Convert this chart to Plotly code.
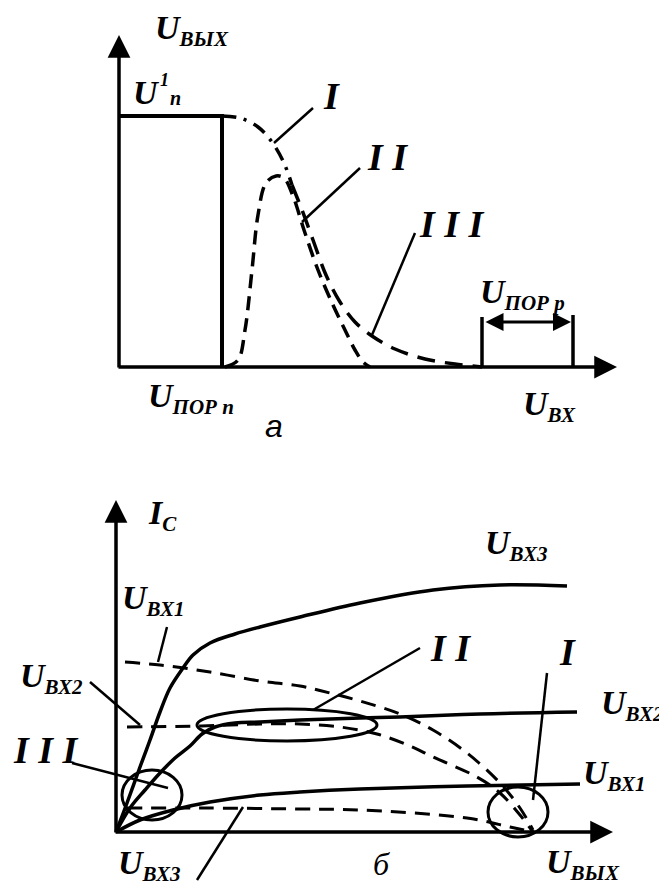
import plotly.graph_objects as go

# ---- curve points (picture coordinates, y grows downward) ----
# chart "а"
rect_x = [119, 222, 222]
rect_y = [116, 116, 367]
curve1_x = [222, 240, 258, 272, 284, 292]
curve1_y = [116, 118, 127, 142, 163, 185]
curve2_x = [225, 238, 245, 252, 258, 266, 276, 284, 293, 304, 318, 333, 345, 355, 363, 370]
curve2_y = [367, 360, 330, 270, 215, 183, 176, 178, 196, 230, 270, 305, 330, 350, 362, 367]
curve3_x = [292, 302, 313, 326, 340, 355, 372, 395, 425, 455, 482]
curve3_y = [185, 210, 240, 275, 302, 322, 336, 349, 359, 364, 367]

# chart "б"
ubx3_x = [116, 127, 140, 150, 160, 170, 183, 193, 210, 235, 260, 300, 360, 433, 500, 567]
ubx3_y = [832, 803, 767, 740, 712, 688, 668, 655, 643, 634, 627, 617, 603, 590, 585, 586]
ubx2_x = [116, 130, 145, 160, 175, 190, 202, 215, 235, 260, 300, 360, 400, 480, 577]
ubx2_y = [832, 808, 790, 773, 758, 746, 734, 727, 723, 722, 720, 718, 717, 714, 712]
ubx1_x = [116, 140, 173, 210, 260, 300, 360, 467, 580]
ubx1_y = [832, 820, 810, 802, 795, 792, 789, 786, 784]
load1_x = [125, 160, 210, 260, 300, 330, 360, 400, 433, 467, 500, 520, 533]
load1_y = [662, 665, 672, 681, 686, 693, 701, 714, 730, 753, 783, 808, 830]
load2_x = [127, 200, 260, 300, 340, 377, 410, 433, 477, 500, 520, 533]
load2_y = [727, 726, 724, 724, 727, 734, 746, 757, 777, 793, 815, 832]
load3_x = [127, 200, 300, 360, 467, 510, 533]
load3_y = [808, 808, 809, 810, 818, 827, 832]

# ellipses: center x, center y, rx, ry
ellipses = [(287, 725, 90, 16), (152, 795, 30, 25), (518, 812, 30, 25)]

# leader lines: x0, y0, x1, y1
leaders = [
    (313, 108, 274, 143), (360, 168, 302, 222), (415, 233, 372, 335),
    (420, 648, 313, 710), (547, 673, 533, 800), (72, 763, 168, 788),
    (90, 682, 140, 725), (167, 627, 158, 662), (197, 880, 243, 807),
]

# axes: tail x, tail y, head x, head y
axes = [(119, 369, 119, 35), (117, 367, 617, 367), (116, 834, 116, 500), (114, 832, 613, 832)]

BI = "Liberation Serif"
OFF = 8  # page body margin

fig = go.Figure()


def line(xs, ys, width=3, dash="solid", shape="spline"):
    fig.add_trace(go.Scatter(x=xs, y=ys, mode="lines", line=dict(color="black", width=width, dash=dash, shape=shape, smoothing=1.0),
                             hoverinfo="skip", showlegend=False))


line(rect_x, rect_y, width=4, shape="linear")
line(curve1_x, curve1_y, width=3.5, dash="14px,8px,3px,8px")
line(curve2_x, curve2_y, width=3.5, dash="14px,8px")
line(curve3_x, curve3_y, width=3.5, dash="18px,10px")

line(ubx3_x, ubx3_y, width=3.5)
line(ubx2_x, ubx2_y, width=3.5)
line(ubx1_x, ubx1_y, width=3.5)
line(load1_x, load1_y, dash="15px,9px")
line(load2_x, load2_y, dash="15px,9px")
line(load3_x, load3_y, dash="15px,9px")

for cx, cy, rx, ry in ellipses:
    fig.add_shape(type="circle", x0=cx - rx, x1=cx + rx, y0=cy - ry, y1=cy + ry,
                  line=dict(color="black", width=3), xref="x", yref="y")

for x0, y0, x1, y1 in leaders:
    fig.add_shape(type="line", x0=x0, y0=y0, x1=x1, y1=y1, line=dict(color="black", width=2.5), xref="x", yref="y")

for tx, ty, hx, hy in axes:
    fig.add_annotation(x=hx, y=hy, ax=tx, ay=ty, xref="x", yref="y", axref="x", ayref="y",
                       showarrow=True, arrowhead=2, arrowsize=1.3, arrowwidth=3.5, arrowcolor="black", text="")

# U_ПОР p bracket
fig.add_shape(type="line", x0=482, x1=482, y0=317, y1=367, line=dict(color="black", width=3.5))
fig.add_shape(type="line", x0=573, x1=573, y0=315, y1=367, line=dict(color="black", width=3.5))
fig.add_annotation(x=571, y=322, ax=484, ay=322, xref="x", yref="y", axref="x", ayref="y", showarrow=True,
                   arrowhead=2, startarrowhead=2, arrowside="end+start", arrowsize=1.2, arrowwidth=3, arrowcolor="black", text="")


def label(x, y, txt, size=34, anchor="left", family=BI):
    fig.add_annotation(x=x, y=y, xref="x", yref="y", text=txt, showarrow=False, xanchor=anchor, yanchor="middle",
                       font=dict(family=family, size=size, color="black"))


def U(sub):
    return "<b><i>U<sub><span style='font-size:21px'>%s</span></sub></i></b>" % sub


label(153, 30, U("ВЫХ"))
label(131, 92, "<b><i>U</i></b>")
label(158, 80, "<b><i>1</i></b>", size=18)
label(168, 98, "<b><i>n</i></b>", size=20)
label(146, 398, U("ПОР n"))
label(478, 294, U("ПОР p"))
label(521, 406, U("ВХ"))
label(274, 426, "<i>а</i>", size=32, anchor="center", family="Liberation Sans")
label(331, 96, "<b><i>I</i></b>", size=38, anchor="center")
label(387, 157, "<b><i>I I</i></b>", size=38, anchor="center")
label(452, 224, "<b><i>I I I</i></b>", size=38, anchor="center")

label(146, 515, "<b><i>I<sub><span style='font-size:21px'>C</span></sub></i></b>")
label(483, 545, U("ВХ3"))
label(120, 600, U("ВХ1"))
label(18, 678, U("ВХ2"))
label(450, 648, "<b><i>I I</i></b>", size=38, anchor="center")
label(567, 652, "<b><i>I</i></b>", size=38, anchor="center")
label(599, 705, U("ВХ2"))
label(46, 750, "<b><i>I I I</i></b>", size=38, anchor="center")
label(581, 775, U("ВХ1"))
label(116, 865, U("ВХ3"))
label(544, 864, U("ВЫХ"))
label(381, 864, "<i>б</i>", size=32, anchor="center")

fig.update_layout(width=667 - OFF, height=886 - OFF, margin=dict(l=0, r=0, t=0, b=0),
                  plot_bgcolor="white", paper_bgcolor="white",
                  xaxis=dict(range=[OFF, 667], visible=False, fixedrange=True),
                  yaxis=dict(range=[886, OFF], visible=False, fixedrange=True))
fig.write_html("out.html")
